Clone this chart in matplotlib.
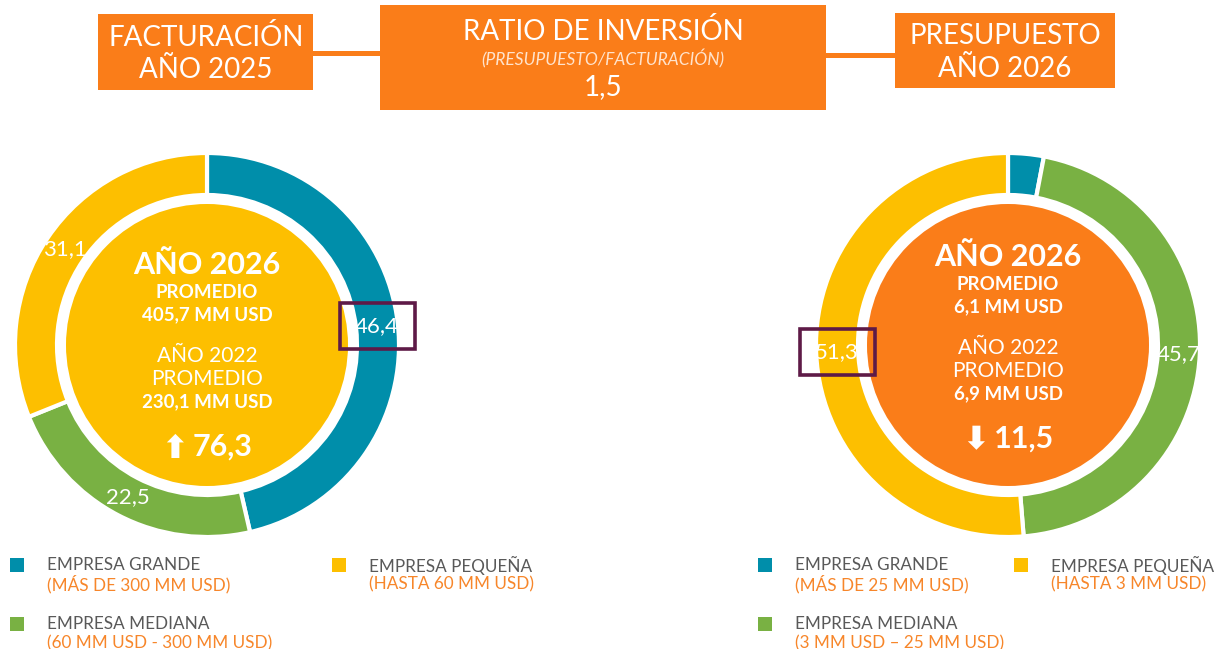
"""Facturación 2025 vs presupuesto 2026 por tamaño de empresa (dos donas)."""

import numpy as np
import matplotlib
matplotlib.use("Agg")
import matplotlib.pyplot as plt
from matplotlib.patches import Rectangle, Circle

W, H = 1221, 649

# ---- datos ----
categories = ["EMPRESA GRANDE", "EMPRESA MEDIANA", "EMPRESA PEQUEÑA"]
facturacion_2025 = [46.4, 22.5, 31.1]
presupuesto_2026 = [3.0, 45.7, 51.3]
facturacion_ranges = ["(MÁS DE 300 MM USD)", "(60 MM USD - 300 MM USD)", "(HASTA 60 MM USD)"]
presupuesto_ranges = ["(MÁS DE 25 MM USD)", "(3 MM USD – 25 MM USD)", "(HASTA 3 MM USD)"]
facturacion_center = ["AÑO 2026", "PROMEDIO", "405,7 MM USD", "AÑO 2022", "PROMEDIO", "230,1 MM USD", "76,3"]
presupuesto_center = ["AÑO 2026", "PROMEDIO", "6,1 MM USD", "AÑO 2022", "PROMEDIO", "6,9 MM USD", "11,5"]
ratio_inversion = "1,5"

TEAL = "#008EAA"
GREEN = "#79B143"
YELLOW = "#FDBF00"
ORANGE = "#FA7D19"
PURPLE = "#5E1A47"
GREY = "#595959"
LEG_ORANGE = "#F7862A"
colors = [TEAL, GREEN, YELLOW]

FONT = ["Lato", "DejaVu Sans"]
plt.rcParams["font.family"] = FONT


def y(py):
    return H - py


def fmt(v):
    return f"{v:.1f}".replace(".", ",")


def donut(ax, values, cx, cy, center_color, center_lines, up, boxed, hidden=()):
    wedges, _ = ax.pie(
        values, colors=colors, center=(cx, y(cy)), radius=192,
        startangle=90, counterclock=False, frame=True,
        wedgeprops=dict(width=42, edgecolor="white", linewidth=3),
    )
    ax.add_patch(Circle((cx, y(cy)), 141, facecolor=center_color, edgecolor="none"))
    for i, (w, v) in enumerate(zip(wedges, values)):
        if i in hidden:
            continue
        mid = np.deg2rad((w.theta1 + w.theta2) / 2)
        tx, ty = cx + 171 * np.cos(mid), y(cy) + 171 * np.sin(mid)
        ax.text(tx, ty, fmt(v), color="white", fontsize=16, ha="center", va="center")
        if i == boxed:
            ax.add_patch(Rectangle((tx - 37, ty - 23), 75, 46, fill=False,
                                   edgecolor=PURPLE, linewidth=2.6))

    off = 0 if up else -8
    t = center_lines
    ax.text(cx, y(265 + off), t[0], color="white", fontsize=22, fontweight="bold", ha="center", va="center")
    ax.text(cx, y(293 + off), t[1], color="white", fontsize=13.5, fontweight="bold", ha="center", va="center")
    ax.text(cx, y(315 + off), t[2], color="white", fontsize=13.5, fontweight="bold", ha="center", va="center")
    ax.text(cx, y(356 + off), t[3], color="white", fontsize=15, ha="center", va="center")
    ax.text(cx, y(379 + off), t[4], color="white", fontsize=15, ha="center", va="center")
    ax.text(cx, y(402 + off), t[5], color="white", fontsize=13.5, fontweight="bold", ha="center", va="center")
    arrow = "⬆" if up else "⬇"
    ax.text(cx - 32, y(449 + off), arrow, color="white", fontsize=23, fontweight="bold",
            ha="center", va="center", family=["DejaVu Sans"])
    ax.text(cx + 16, y(447 + off), t[6], color="white", fontsize=22, fontweight="bold", ha="center", va="center")


def legend(ax, x0, x1, ranges):
    items = [(x0, 565, 0), (x0, 624, 1), (x1, 565, 2)]
    for lx, ly, i in items:
        ax.add_patch(Rectangle((lx, y(ly) - 7), 14, 14, facecolor=colors[i], edgecolor="none"))
        ax.text(lx + 37, y(ly), categories[i], color=GREY, fontsize=12.3, va="center")
        ax.text(lx + 37, y(ly + 19), ranges[i], color=LEG_ORANGE, fontsize=12.3, va="center")


def header(ax):
    ax.add_patch(Rectangle((310, y(56)), 75, 5, facecolor=ORANGE, edgecolor="none"))
    ax.add_patch(Rectangle((820, y(58)), 80, 5, facecolor=ORANGE, edgecolor="none"))
    ax.add_patch(Rectangle((98, y(90)), 215, 76, facecolor=ORANGE, edgecolor="none"))
    ax.add_patch(Rectangle((380, y(110)), 446, 105, facecolor=ORANGE, edgecolor="none"))
    ax.add_patch(Rectangle((895, y(88)), 220, 75, facecolor=ORANGE, edgecolor="none"))
    big = dict(color="white", fontsize=20, ha="center", va="center")
    ax.text(206, y(37), "FACTURACIÓN", **big)
    ax.text(206, y(70), "AÑO 2025", **big)
    ax.text(603, y(31), "RATIO DE INVERSIÓN", **big)
    ax.text(603, y(59), "(PRESUPUESTO/FACTURACIÓN)", color="#FFE3CC", fontsize=12.5, fontstyle="italic",
            ha="center", va="center")
    ax.text(603, y(87), ratio_inversion, **big)
    ax.text(1005, y(36), "PRESUPUESTO", **big)
    ax.text(1005, y(69), "AÑO 2026", **big)


def main():
    fig = plt.figure(figsize=(W / 100, H / 100), dpi=100)
    ax = fig.add_axes([0, 0, 1, 1])
    header(ax)
    donut(ax, facturacion_2025, 207, 345, YELLOW, facturacion_center, True, boxed=0)
    donut(ax, presupuesto_2026, 1008, 345, ORANGE, presupuesto_center, False, boxed=2, hidden=(0,))
    legend(ax, 10, 332, facturacion_ranges)
    legend(ax, 758, 1014, presupuesto_ranges)
    ax.set_xlim(0, W)
    ax.set_ylim(0, H)
    ax.set_aspect("equal")
    ax.axis("off")
    fig.savefig("out.png", dpi=100, facecolor="white")


if __name__ == "__main__":
    main()
